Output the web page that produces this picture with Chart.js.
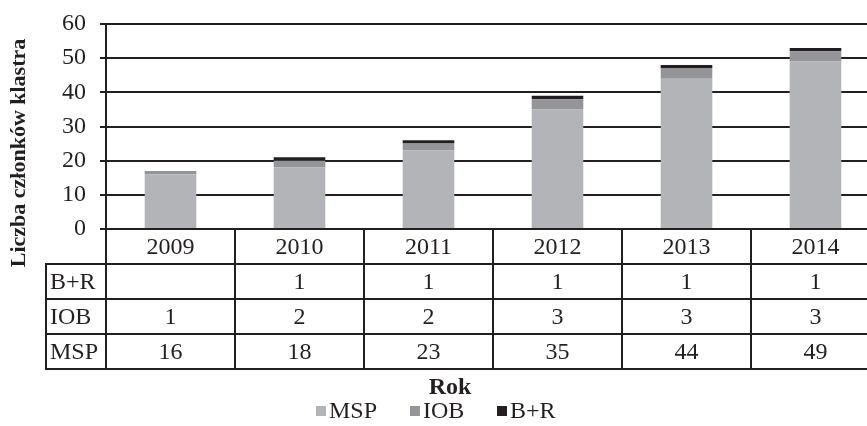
<!DOCTYPE html>
<html>
<head>
<meta charset="utf-8">
<script src="https://cdn.jsdelivr.net/npm/chart.js@4.4.1/dist/chart.umd.min.js"></script>
<style>
  html, body { margin: 0; padding: 0; overflow: hidden; background: #fff; }
  #wrap { position: relative; width: 880px; height: 426px; }
</style>
</head>
<body>
<div id="wrap"><canvas id="c" width="880" height="426"></canvas></div>
<script>
const categories = ['2009', '2010', '2011', '2012', '2013', '2014'];
const mspValues = [16, 18, 23, 35, 44, 49];
const iobValues = [1, 2, 2, 3, 3, 3];
const brValues = [null, 1, 1, 1, 1, 1];
const seriesNames = ['MSP', 'IOB', 'B+R'];
const yTicks = [0, 10, 20, 30, 40, 50, 60];
const yTitle = 'Liczba członków klastra';
const xTitle = 'Rok';

const INK = '#231f20';
const FONT = "'Liberation Serif', 'Times New Roman', Times, serif";
const colors = ['#b3b4b8', '#939598', '#231f20'];

const tablePlugin = {
  id: 'dataTable',
  afterDraw(chart) {
    const ctx = chart.ctx;
    const xs = chart.scales.x;
    const area = chart.chartArea;
    const n = categories.length;
    const catW = (area.right - area.left) / n;
    const rowH = 35;
    const top = area.bottom;
    const rows = [
      { label: seriesNames[2], vals: brValues },
      { label: seriesNames[1], vals: iobValues },
      { label: seriesNames[0], vals: mspValues }
    ];
    const tableLeft = 46;
    const bottom = top + rowH * (rows.length + 1);
    ctx.save();
    ctx.strokeStyle = INK;
    ctx.lineWidth = 2;
    for (let i = 0; i <= n; i++) {
      const x = Math.round(area.left + i * catW);
      ctx.beginPath();
      ctx.moveTo(x, top);
      ctx.lineTo(x, bottom);
      ctx.stroke();
    }
    ctx.beginPath();
    ctx.moveTo(tableLeft, top + rowH);
    ctx.lineTo(tableLeft, bottom);
    ctx.stroke();
    for (let r = 1; r <= rows.length + 1; r++) {
      const y = top + r * rowH;
      ctx.beginPath();
      ctx.moveTo(tableLeft - 1, y);
      ctx.lineTo(area.right + 2, y);
      ctx.stroke();
    }
    ctx.fillStyle = INK;
    ctx.font = '24px ' + FONT;
    ctx.textBaseline = 'middle';
    ctx.textAlign = 'center';
    categories.forEach((c, i) => {
      ctx.fillText(c, xs.getPixelForValue(i), top + rowH / 2 + 1);
    });
    rows.forEach((row, r) => {
      const yc = top + rowH * (r + 1) + rowH / 2 + 1;
      ctx.textAlign = 'left';
      ctx.fillText(row.label, tableLeft + 4, yc);
      ctx.textAlign = 'center';
      row.vals.forEach((v, i) => {
        if (v !== null && v !== undefined) ctx.fillText(String(v), xs.getPixelForValue(i), yc);
      });
    });
    ctx.save();
    ctx.translate(19, 153);
    ctx.rotate(-Math.PI / 2);
    ctx.font = 'bold 22px ' + FONT;
    ctx.textAlign = 'center';
    ctx.fillText(yTitle, 0, 0);
    ctx.restore();
    ctx.font = 'bold 24px ' + FONT;
    ctx.textAlign = 'center';
    ctx.fillText(xTitle, 450, 388);
    ctx.font = '24px ' + FONT;
    ctx.textAlign = 'left';
    const legendX = [316, 410, 497];
    const legendY = 411;
    seriesNames.forEach((name, i) => {
      ctx.fillStyle = colors[i];
      ctx.fillRect(legendX[i], legendY - 5, 10, 10);
      ctx.fillStyle = INK;
      ctx.fillText(name, legendX[i] + 13, legendY + 1);
    });
    ctx.restore();
  }
};

new Chart(document.getElementById('c'), {
  type: 'bar',
  data: {
    labels: categories,
    datasets: [
      { label: seriesNames[0], data: mspValues, backgroundColor: colors[0] },
      { label: seriesNames[1], data: iobValues, backgroundColor: colors[1] },
      { label: seriesNames[2], data: brValues, backgroundColor: colors[2] }
    ]
  },
  options: {
    responsive: false,
    animation: false,
    devicePixelRatio: 1,
    layout: { padding: { top: 24, bottom: 197, left: 0, right: 0 } },
    datasets: { bar: { categoryPercentage: 1, barPercentage: 0.4 } },
    plugins: { legend: { display: false }, tooltip: { enabled: false } },
    scales: {
      x: { stacked: true, display: false },
      y: {
        stacked: true,
        min: 0, max: 60,
        afterFit(s) { s.width = 106; s.paddingTop = 0; s.paddingBottom = 0; },
        afterBuildTicks(s) { s.ticks = yTicks.map(v => ({ value: v })); },
        border: { display: true, color: INK, width: 2 },
        grid: { color: INK, lineWidth: 2, tickLength: 6, drawTicks: true },
        ticks: { color: INK, font: { family: FONT, size: 24 }, padding: 14 }
      }
    }
  },
  plugins: [tablePlugin]
});
</script>
</body>
</html>
